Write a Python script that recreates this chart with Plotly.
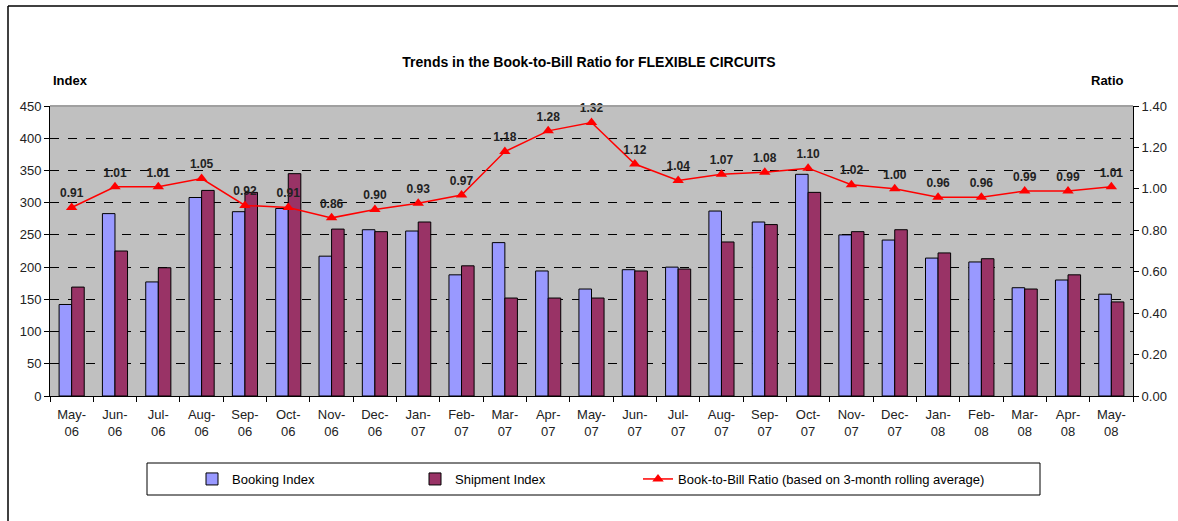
import plotly.graph_objects as go

months = ["May-<br>06", "Jun-<br>06", "Jul-<br>06", "Aug-<br>06", "Sep-<br>06", "Oct-<br>06",
          "Nov-<br>06", "Dec-<br>06", "Jan-<br>07", "Feb-<br>07", "Mar-<br>07", "Apr-<br>07",
          "May-<br>07", "Jun-<br>07", "Jul-<br>07", "Aug-<br>07", "Sep-<br>07", "Oct-<br>07",
          "Nov-<br>07", "Dec-<br>07", "Jan-<br>08", "Feb-<br>08", "Mar-<br>08", "Apr-<br>08",
          "May-<br>08"]
booking = [142, 283, 177, 308, 286, 291, 217, 258, 256, 188, 238, 194, 166, 196, 200,
           287, 270, 344, 250, 242, 214, 208, 168, 180, 158]
shipment = [169, 225, 199, 319, 316, 345, 259, 255, 270, 202, 152, 152, 152, 194, 197,
            239, 266, 316, 255, 258, 222, 213, 166, 188, 146]
ratio = [0.91, 1.01, 1.01, 1.05, 0.92, 0.91, 0.86, 0.90, 0.93, 0.97, 1.18, 1.28, 1.32,
         1.12, 1.04, 1.07, 1.08, 1.10, 1.02, 1.00, 0.96, 0.96, 0.99, 0.99, 1.01]
left_ticks = [0, 50, 100, 150, 200, 250, 300, 350, 400, 450]
right_ticks = [0, 0.2, 0.4, 0.6, 0.8, 1.0, 1.2, 1.4]

W, H = 1178, 521
ML, MR, MT, MB = 50, 45, 106, 125
PW, PH = W - ML - MR, H - MT - MB


def px_x(p):
    return (p - ML) / PW


def px_y(p):
    return (H - MB - p) / PH


fig = go.Figure()
fig.add_trace(go.Bar(x=months, y=booking, name="Booking Index",
                     marker=dict(color="#9999ff", line=dict(color="#000000", width=1))))
fig.add_trace(go.Bar(x=months, y=shipment, name="Shipment Index",
                     marker=dict(color="#993366", line=dict(color="#000000", width=1))))
fig.add_trace(go.Scatter(x=months, y=ratio, yaxis="y2", mode="lines+markers+text",
                         name="Book-to-Bill Ratio (based on 3-month rolling average)",
                         legendwidth=340, cliponaxis=False,
                         line=dict(color="#ff0000", width=1.5),
                         marker=dict(symbol="triangle-up", size=10, color="#ff0000"),
                         text=[f"{v:.2f}" for v in ratio], textposition="top center",
                         textfont=dict(family="Liberation Sans, Arial", size=12, color="#222222",
                                       weight="bold")))

axis_font = dict(family="Liberation Sans, Arial", size=13, color="#222222")
label_font = dict(family="Liberation Sans, Arial", size=13, color="#000000")
fig.update_layout(
    width=W, height=H,
    margin=dict(l=ML, r=MR, t=MT, b=MB, autoexpand=False),
    paper_bgcolor="#ffffff", plot_bgcolor="#c0c0c0",
    barmode="group", bargap=0.42, bargroupgap=0,
    showlegend=True,
    legend=dict(orientation="h", x=px_x(192), y=px_y(479), xanchor="left", yanchor="middle",
                bgcolor="rgba(0,0,0,0)", borderwidth=0, entrywidth=178, entrywidthmode="pixels",
                font=dict(family="Liberation Sans Narrow, Arial Narrow, Liberation Sans", size=13,
                          color="#000000"),
                traceorder="normal"),
    title=dict(text="<b>Trends in the Book-to-Bill Ratio for FLEXIBLE CIRCUITS</b>",
               x=0.5, xanchor="center", y=1 - 62 / H, yanchor="middle",
               font=dict(family="Liberation Sans, Arial", size=14, color="#000000")),
    xaxis=dict(type="category", range=[-0.5, len(months) - 0.5], autorange=False,
               showline=True, linecolor="#000000", linewidth=1,
               ticks="outside", tickson="boundaries", ticklen=5, tickcolor="#000000",
               tickfont=axis_font, showgrid=False, ticklabelstandoff=6),
    yaxis=dict(range=[0, 450], tickvals=left_ticks, showline=True, linecolor="#000000",
               linewidth=1, ticks="outside", ticklen=5, tickcolor="#000000",
               tickfont=axis_font, showgrid=True, gridcolor="#000000", gridwidth=1,
               griddash="dash", zeroline=False),
    yaxis2=dict(range=[0, 1.4], tickvals=right_ticks, tickformat=".2f", overlaying="y",
                side="right", showline=True, linecolor="#000000", linewidth=1,
                ticks="outside", ticklen=5, tickcolor="#000000", tickfont=axis_font,
                showgrid=False, zeroline=False),
    annotations=[
        dict(text="<b>Index</b>", xref="paper", yref="paper", x=px_x(70), y=px_y(80),
             xanchor="center", yanchor="middle", showarrow=False, font=label_font),
        dict(text="<b>Ratio</b>", xref="paper", yref="paper", x=px_x(1107), y=px_y(80),
             xanchor="center", yanchor="middle", showarrow=False, font=label_font),
    ],
    shapes=[
        # plot area top border (gray)
        dict(type="line", xref="paper", yref="paper", x0=0, x1=1, y0=1, y1=1,
             line=dict(color="#a0a0a0", width=2)),
        # legend box
        dict(type="rect", xref="paper", yref="paper", x0=px_x(147), x1=px_x(1040),
             y0=px_y(463), y1=px_y(495), line=dict(color="#000000", width=1)),
        # outer chart frame (left and top edges)
        dict(type="line", xref="paper", yref="paper", x0=px_x(8), x1=px_x(8),
             y0=px_y(H + 5), y1=px_y(6), line=dict(color="#000000", width=1.5)),
        dict(type="line", xref="paper", yref="paper", x0=px_x(8), x1=px_x(W + 5),
             y0=px_y(6), y1=px_y(6), line=dict(color="#000000", width=1.5)),
    ],
)

fig.write_html("out.html", config=dict(displayModeBar=False),
               post_script="document.body.style.margin='0';document.body.style.padding='0';")
